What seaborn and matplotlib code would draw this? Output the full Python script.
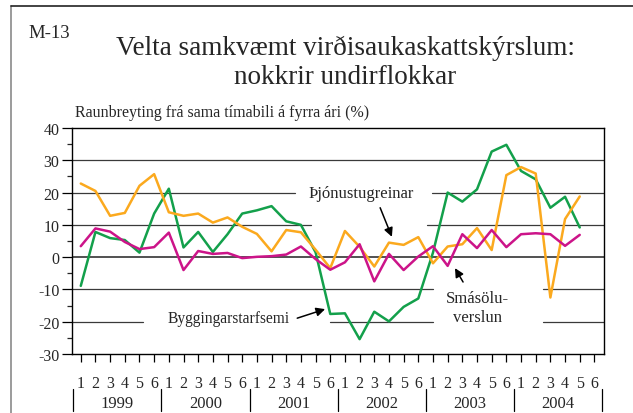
import numpy as np
import pandas as pd
import matplotlib
matplotlib.use("Agg")
import matplotlib.pyplot as plt
import seaborn as sns

# bimonthly periods 1999-2004, change from same period previous year (%)
years = ["1999", "2000", "2001", "2002", "2003", "2004"]
periods = ["1", "2", "3", "4", "5", "6"]

bygging = [-8.9, 7.8, 5.9, 5.3, 1.4, 13.5,
           21.2, 3.0, 7.8, 1.6, 7.1, 13.5,
           14.5, 15.8, 11.1, 10.0, 1.5, -17.6,
           -17.4, -25.4, -16.9, -19.9, -15.4, -12.8,
           1.4, 20.0, 17.2, 21.0, 32.7, 34.8,
           26.7, 24.1, 15.3, 18.7, 9.2]
thjonusta = [22.8, 20.5, 12.8, 13.7, 22.1, 25.7,
             13.9, 12.8, 13.5, 10.7, 12.3, 9.4,
             7.2, 1.8, 8.4, 7.7, 2.3, -3.4,
             8.1, 3.2, -2.9, 4.5, 3.8, 6.2,
             -1.9, 3.3, 4.0, 9.0, 2.2, 25.4,
             27.9, 25.9, -12.5, 11.8, 18.8]
smasala = [3.4, 8.9, 7.9, 4.7, 2.5, 3.1,
           7.6, -4.0, 1.9, 1.0, 1.3, -0.3,
           0.1, 0.3, 0.8, 3.3, -0.6, -3.9,
           -1.6, 4.0, -7.5, 1.0, -4.0, 0.2,
           3.4, -2.7, 7.1, 2.8, 8.4, 3.1,
           7.1, 7.4, 7.1, 3.5, 6.9]

series = {"Byggingarstarfsemi": bygging,
          "Þjónustugreinar": thjonusta,
          "Smásöluverslun": smasala}
colors = {"Byggingarstarfsemi": "#13a04b",
          "Þjónustugreinar": "#fba91e",
          "Smásöluverslun": "#cc1489"}

df = pd.concat([pd.DataFrame({"t": np.arange(len(v)), "value": v, "series": k})
                for k, v in series.items()], ignore_index=True)

sns.set_style("ticks")
plt.rcParams["font.family"] = ["Liberation Serif", "DejaVu Serif"]
plt.rcParams["axes.unicode_minus"] = False

fig = plt.figure(figsize=(6.33, 4.14), dpi=100)
ax = fig.add_axes([0.1137, 0.1425, 0.8404, 0.5459])

# gridlines (some broken where labels sit)
grid_kw = dict(color="#3a3a3a", lw=0.9, zorder=1)
ax.axhline(30, **grid_kw)
ax.axhline(0, color="#222222", lw=1.1, zorder=1)
for y, segs in {20: [(-0.6, 14.6), (23.95, 35.7)],
                10: [(-0.6, 15.7), (23.6, 35.7)],
                -10: [(-0.6, 24.0), (31.5, 35.7)],
                -20: [(-0.6, 4.25), (17.0, 24.0), (31.5, 35.7)]}.items():
    for a, b in segs:
        ax.plot([a, b], [y, y], **grid_kw)

sns.lineplot(data=df, x="t", y="value", hue="series", palette=colors,
             lw=1.8, legend=False, ax=ax, zorder=3)

ax.set_xlim(-0.6, 35.65)
ax.set_ylim(-30, 40)
ax.set_yticks(range(-30, 41, 10))
ax.set_yticks(range(-25, 40, 10), minor=True)
ax.set_xticks(range(36))
ax.set_xticklabels(periods * len(years))
ax.tick_params(axis="both", direction="out", labelsize=11.5, color="black")
ax.tick_params(axis="y", which="major", length=7, width=0.9, pad=2)
ax.tick_params(axis="y", which="minor", length=3.5, width=0.9)
ax.tick_params(axis="x", length=6, width=0.9, pad=9)
ax.set_xlabel("")
ax.set_ylabel("")
for s in ax.spines.values():
    s.set_linewidth(1.0)
    s.set_color("black")

# year labels and separators below the axis
xtr = ax.get_xaxis_transform()
for i, yr in enumerate(years):
    ax.text(i * 6 + 2.5, -0.217, yr, transform=xtr, ha="center", va="center",
            fontsize=12)
for i in range(len(years) + 1):
    ax.plot([i * 6 - 0.5] * 2, [-0.155, -0.25], transform=xtr, color="black",
            lw=0.9, clip_on=False)

# series labels with arrows
arrow_kw = dict(arrowstyle="-|>", color="black", lw=1.1, mutation_scale=13,
                shrinkA=0, shrinkB=0)
ax.annotate("", xy=(21.2, 6.3), xytext=(20.4, 15.3), arrowprops=arrow_kw)
ax.text(19.1, 19.8, "Þjónustugreinar", ha="center", va="center", fontsize=12)
ax.annotate("", xy=(16.65, -16.1), xytext=(14.75, -18.9), arrowprops=arrow_kw)
ax.text(10.1, -18.8, "Byggingarstarfsemi", ha="center", va="center", fontsize=11.2)
ax.annotate("", xy=(25.5, -3.4), xytext=(26.05, -7.7), arrowprops=arrow_kw)
ax.text(27.0, -15.5, "Smásölu-\nverslun", ha="center", va="center",
        fontsize=12, linespacing=1.25)

# titles
fig.text(28 / 633, 1 - 34 / 414, "M-13", fontsize=13.5, va="center", ha="left")
fig.text(345 / 633, 1 - 63 / 414,
         "Velta samkvæmt virðisaukaskattskýrslum:\nnokkrir undirflokkar",
         fontsize=19.5, ha="center", va="center", linespacing=1.2)
fig.text(75 / 633, 1 - 113 / 414,
         "Raunbreyting frá sama tímabili á fyrra ári (%)", fontsize=11.5,
         ha="left", va="center")

# page frame
fig.add_artist(plt.Line2D([11 / 633, 11 / 633], [0, 1 - 7 / 414],
                          transform=fig.transFigure, color="#8a8a8a", lw=1.2))
fig.add_artist(plt.Line2D([11 / 633, 1], [1 - 7 / 414, 1 - 7 / 414],
                          transform=fig.transFigure, color="#222222", lw=1.2))

fig.savefig("out.png", dpi=100)
